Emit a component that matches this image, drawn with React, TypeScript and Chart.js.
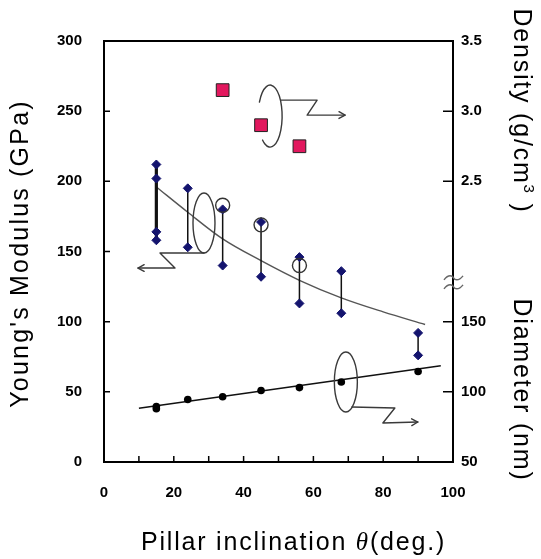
import React, { useEffect, useRef } from 'react';
import { Chart, registerables } from 'chart.js';

Chart.register(...registerables);

// ---------- data ----------
const modulusAngles = [15, 15, 15, 15, 24, 24, 34, 34, 45, 45, 56, 56, 68, 68, 90, 90];
const modulusValues = [212, 202, 164, 158, 195, 153, 180, 140, 171, 132, 146, 113, 136, 106, 92, 76];

const fitAngles = [15, 24, 34, 45, 56, 68, 80, 92];
const fitModulus = [196, 178, 159, 143.5, 129.5, 117, 107, 98];

const circleAngles = [34, 45, 56];
const circleModulus = [183, 169, 140];

const densityAngles = [34, 45, 56];
const densityValues = [3.15, 2.9, 2.75];

const diameterAngles = [15, 15, 24, 34, 45, 56, 68, 90];
const diameterValues = [89.5, 88, 94.5, 96.5, 101, 103, 107, 114.5];

const diameterFitAngles = [10, 96.5];
const diameterFitValues = [88.3, 118.6];

const xTickLabels = [0, 20, 40, 60, 80, 100];
const xMinorTicks = [10, 20, 30, 40, 50, 60, 70, 80, 90];
const modulusTicks = [0, 50, 100, 150, 200, 250, 300];
const densityTicks = [2.5, 3.0, 3.5];
const diameterTicks = [50, 100, 150];
const densityBreak = 1.78;

const TICK_FONT = { family: '"Liberation Sans", Arial, sans-serif', size: 15, weight: 'bold' as const };
const TITLE_FAMILY = '"Liberation Sans", Arial, sans-serif';

// rotation-arrow annotations (anchor in data units, the rest in px)
const rotationMarks = [
  { anchor: [47.6, 246.5], rx: 12, ry: 31, arc: [3.61, 8.54], tail: [[10.5, -16], [47, -16], [37, -1], [75, -1]] },
  { anchor: [28.65, 170.3], rx: 11, ry: 30, arc: [0, Math.PI * 2], tail: [[0, 30], [-44, 30], [-29, 45], [-66, 45]] },
  { anchor: [69.3, 57], rx: 11.5, ry: 30, arc: [0, Math.PI * 2], tail: [[6, 25], [49, 26], [37, 41], [72, 40]] },
];

function drawSpaced(ctx: CanvasRenderingContext2D, parts: { t: string; font: string; dy?: number }[], x: number, y: number, spacing: string) {
  // measure
  let total = 0;
  const widths: number[] = [];
  parts.forEach((p) => {
    ctx.font = p.font;
    (ctx as any).letterSpacing = spacing;
    const w = ctx.measureText(p.t).width;
    widths.push(w);
    total += w;
  });
  let cx = x - total / 2;
  ctx.textAlign = 'left';
  parts.forEach((p, i) => {
    ctx.font = p.font;
    (ctx as any).letterSpacing = spacing;
    ctx.fillText(p.t, cx, y + (p.dy || 0));
    cx += widths[i];
  });
  (ctx as any).letterSpacing = '0px';
}

const decorPlugin = {
  id: 'decor',
  afterDatasetsDraw(chart: any) {
    const ctx: CanvasRenderingContext2D = chart.ctx;
    const xs = chart.scales.x;
    const ys = chart.scales.y;
    ctx.save();
    ctx.strokeStyle = '#3a3a3a';
    ctx.lineWidth = 1.4;
    ctx.lineJoin = 'round';
    ctx.lineCap = 'round';
    rotationMarks.forEach((m) => {
      const cx = xs.getPixelForValue(m.anchor[0]);
      const cy = ys.getPixelForValue(m.anchor[1]);
      ctx.beginPath();
      ctx.ellipse(cx, cy, m.rx, m.ry, 0, m.arc[0], m.arc[1]);
      ctx.stroke();
      const pts = m.tail.map(([dx, dy]) => [cx + dx, cy + dy]);
      ctx.beginPath();
      ctx.moveTo(pts[0][0], pts[0][1]);
      for (let i = 1; i < pts.length; i++) ctx.lineTo(pts[i][0], pts[i][1]);
      ctx.stroke();
      const [x1, y1] = pts[pts.length - 2];
      const [x2, y2] = pts[pts.length - 1];
      const ang = Math.atan2(y2 - y1, x2 - x1);
      const L = 7, W = 0.5;
      ctx.beginPath();
      ctx.moveTo(x2 - L * Math.cos(ang - W), y2 - L * Math.sin(ang - W));
      ctx.lineTo(x2, y2);
      ctx.lineTo(x2 - L * Math.cos(ang + W), y2 - L * Math.sin(ang + W));
      ctx.stroke();
    });
    ctx.restore();
  },
  afterDraw(chart: any) {
    const ctx: CanvasRenderingContext2D = chart.ctx;
    const a = chart.chartArea;
    const xs = chart.scales.x;
    const ys = chart.scales.y;
    const yd = chart.scales.yDensity;
    const ydm = chart.scales.yDiameter;
    ctx.save();
    // frame
    ctx.strokeStyle = '#000';
    ctx.lineWidth = 2;
    ctx.strokeRect(a.left, a.top, a.right - a.left, a.bottom - a.top);
    // inward ticks
    ctx.lineWidth = 1.5;
    ctx.beginPath();
    modulusTicks.forEach((v) => {
      const p = ys.getPixelForValue(v);
      ctx.moveTo(a.left, p);
      ctx.lineTo(a.left + 6, p);
    });
    xMinorTicks.forEach((v) => {
      const p = xs.getPixelForValue(v);
      ctx.moveTo(p, a.bottom);
      ctx.lineTo(p, a.bottom - 6);
    });
    densityTicks.forEach((v) => {
      const p = yd.getPixelForValue(v);
      ctx.moveTo(a.right, p);
      ctx.lineTo(a.right - 10, p);
    });
    diameterTicks.forEach((v) => {
      const p = ydm.getPixelForValue(v);
      ctx.moveTo(a.right, p);
      ctx.lineTo(a.right - 10, p);
    });
    ctx.stroke();

    // axis break marks
    const by = yd.getPixelForValue(densityBreak);
    ctx.strokeStyle = '#666';
    ctx.lineWidth = 1.5;
    [-4.5, 4.5].forEach((off) => {
      const y0 = by + off;
      const x0 = a.right - 9;
      const w = 19;
      ctx.beginPath();
      ctx.moveTo(x0, y0 + 2);
      ctx.bezierCurveTo(x0 + w * 0.25, y0 - 4, x0 + w * 0.45, y0 - 2, x0 + w * 0.5, y0);
      ctx.bezierCurveTo(x0 + w * 0.55, y0 + 2, x0 + w * 0.75, y0 + 4, x0 + w, y0 - 2);
      ctx.stroke();
    });

    // diameter tick labels
    ctx.fillStyle = '#000';
    ctx.font = `bold ${TICK_FONT.size}px ${TICK_FONT.family}`;
    ctx.textAlign = 'left';
    ctx.textBaseline = 'middle';
    diameterTicks.forEach((v) => {
      ctx.fillText(String(v), a.right + 8, ydm.getPixelForValue(v));
    });

    // titles
    ctx.textBaseline = 'alphabetic';
    const f = `25px ${TITLE_FAMILY}`;
    // x title
    drawSpaced(
      ctx,
      [
        { t: 'Pillar inclination ', font: f },
        { t: 'θ', font: `italic 25px "Liberation Serif", serif` },
        { t: '(deg.)', font: f },
      ],
      (a.left + a.right) / 2 + 15,
      550,
      '1.8px'
    );
    // left title
    ctx.save();
    ctx.translate(28, (a.top + a.bottom) / 2 + 2);
    ctx.rotate(-Math.PI / 2);
    drawSpaced(ctx, [{ t: "Young's Modulus (GPa)", font: f }], 0, 0, '2.2px');
    ctx.restore();
    // density title
    ctx.save();
    ctx.translate(514, 111);
    ctx.rotate(Math.PI / 2);
    drawSpaced(
      ctx,
      [
        { t: 'Density (g/cm', font: f },
        { t: '3', font: `15px ${TITLE_FAMILY}`, dy: -10 },
        { t: ' )', font: f },
      ],
      0,
      0,
      '1.8px'
    );
    ctx.restore();
    // diameter title
    ctx.save();
    ctx.translate(514, 390);
    ctx.rotate(Math.PI / 2);
    drawSpaced(ctx, [{ t: 'Diameter (nm)', font: f }], 0, 0, '1.8px');
    ctx.restore();

    ctx.restore();
  },
};

export default function App() {
  const ref = useRef<HTMLCanvasElement>(null);
  useEffect(() => {
    document.body.style.margin = '0';
    const canvas = ref.current!;

    const modulusPoints = modulusAngles.map((x, i) => ({ x, y: modulusValues[i] }));
    const groups = Array.from(new Set(modulusAngles));
    const connectorPoints: any[] = [];
    groups.forEach((g) => {
      const vals = modulusValues.filter((_, i) => modulusAngles[i] === g);
      connectorPoints.push({ x: g, y: Math.max(...vals), n: vals.length });
      connectorPoints.push({ x: g, y: Math.min(...vals), n: vals.length });
      connectorPoints.push({ x: g, y: null, n: vals.length });
    });
    const fitPoints = fitAngles.map((x, i) => ({ x, y: fitModulus[i] }));
    const circlePoints = circleAngles.map((x, i) => ({ x, y: circleModulus[i] }));
    const densityPoints = densityAngles.map((x, i) => ({ x, y: densityValues[i] }));
    const diameterPoints = diameterAngles.map((x, i) => ({ x, y: diameterValues[i] }));
    const diameterFitPoints = diameterFitAngles.map((x, i) => ({ x, y: diameterFitValues[i] }));

    const chart = new Chart(canvas, {
      type: 'scatter',
      data: {
        datasets: [
          {
            label: 'range',
            data: connectorPoints,
            showLine: true,
            spanGaps: false,
            borderColor: '#111',
            borderWidth: 1.5,
            pointRadius: 0,
            segment: {
              borderWidth: (c: any) => (connectorPoints[c.p0DataIndex].n > 2 ? 3.2 : 1.5),
            },
            order: 5,
          } as any,
          {
            label: 'fit',
            data: fitPoints,
            showLine: true,
            borderColor: '#555',
            borderWidth: 1.4,
            pointRadius: 0,
            cubicInterpolationMode: 'monotone',
            order: 6,
          } as any,
          {
            label: 'diameter fit',
            data: diameterFitPoints,
            yAxisID: 'yDiameter',
            showLine: true,
            borderColor: '#111',
            borderWidth: 1.5,
            pointRadius: 0,
            order: 6,
          } as any,
          {
            label: 'modulus',
            data: modulusPoints,
            pointStyle: 'rectRot',
            pointRadius: 4.5,
            backgroundColor: '#14146e',
            borderColor: '#14146e',
            borderWidth: 1,
            order: 2,
          },
          {
            label: 'diameter',
            data: diameterPoints,
            yAxisID: 'yDiameter',
            pointStyle: 'circle',
            pointRadius: 3.8,
            backgroundColor: '#000',
            borderColor: '#000',
            borderWidth: 0,
            order: 2,
          },
          {
            label: 'circles',
            data: circlePoints,
            pointStyle: 'circle',
            pointRadius: 7,
            backgroundColor: 'rgba(0,0,0,0)',
            borderColor: '#333',
            borderWidth: 1.4,
            order: 1,
          },
          {
            label: 'density',
            data: densityPoints,
            yAxisID: 'yDensity',
            pointStyle: 'rect',
            pointRadius: 9,
            backgroundColor: '#e2185e',
            borderColor: '#222',
            borderWidth: 1,
            order: 1,
          },
        ],
      },
      options: {
        responsive: false,
        animation: false,
        events: [],
        layout: { padding: { top: 41, left: 0, right: 0, bottom: 0 } },
        plugins: { legend: { display: false }, tooltip: { enabled: false } },
        scales: {
          x: {
            type: 'linear',
            min: 0,
            max: 100,
            grid: { display: false, drawTicks: false },
            border: { display: false },
            afterBuildTicks: (s: any) => {
              s.ticks = xTickLabels.map((v) => ({ value: v }));
            },
            ticks: {
              autoSkip: false,
              maxRotation: 0,
              padding: 22,
              color: '#000',
              font: TICK_FONT,
              callback: (v: any) => String(v),
            },
            afterFit: (s: any) => {
              s.height = 97;
            },
          },
          y: {
            type: 'linear',
            position: 'left',
            min: 0,
            max: 300,
            grid: { display: false, drawTicks: false },
            border: { display: false },
            afterBuildTicks: (s: any) => {
              s.ticks = modulusTicks.map((v) => ({ value: v }));
            },
            ticks: { autoSkip: false, padding: 22, color: '#000', font: TICK_FONT, callback: (v: any) => String(v) },
            afterFit: (s: any) => {
              s.width = 104;
            },
          },
          yDensity: {
            type: 'linear',
            position: 'right',
            min: 0.5,
            max: 3.5,
            grid: { display: false, drawTicks: false },
            border: { display: false },
            afterBuildTicks: (s: any) => {
              s.ticks = densityTicks.map((v) => ({ value: v }));
            },
            ticks: { autoSkip: false, padding: 8, color: '#000', font: TICK_FONT, callback: (v: any) => Number(v).toFixed(1) },
            afterFit: (s: any) => {
              s.width = 88;
            },
          },
          yDiameter: {
            type: 'linear',
            position: 'right',
            display: false,
            min: 50,
            max: 350,
          },
        },
      } as any,
      plugins: [decorPlugin],
    });
    return () => chart.destroy();
  }, []);

  return <canvas ref={ref} width={541} height={559} style={{ display: 'block' }} />;
}
